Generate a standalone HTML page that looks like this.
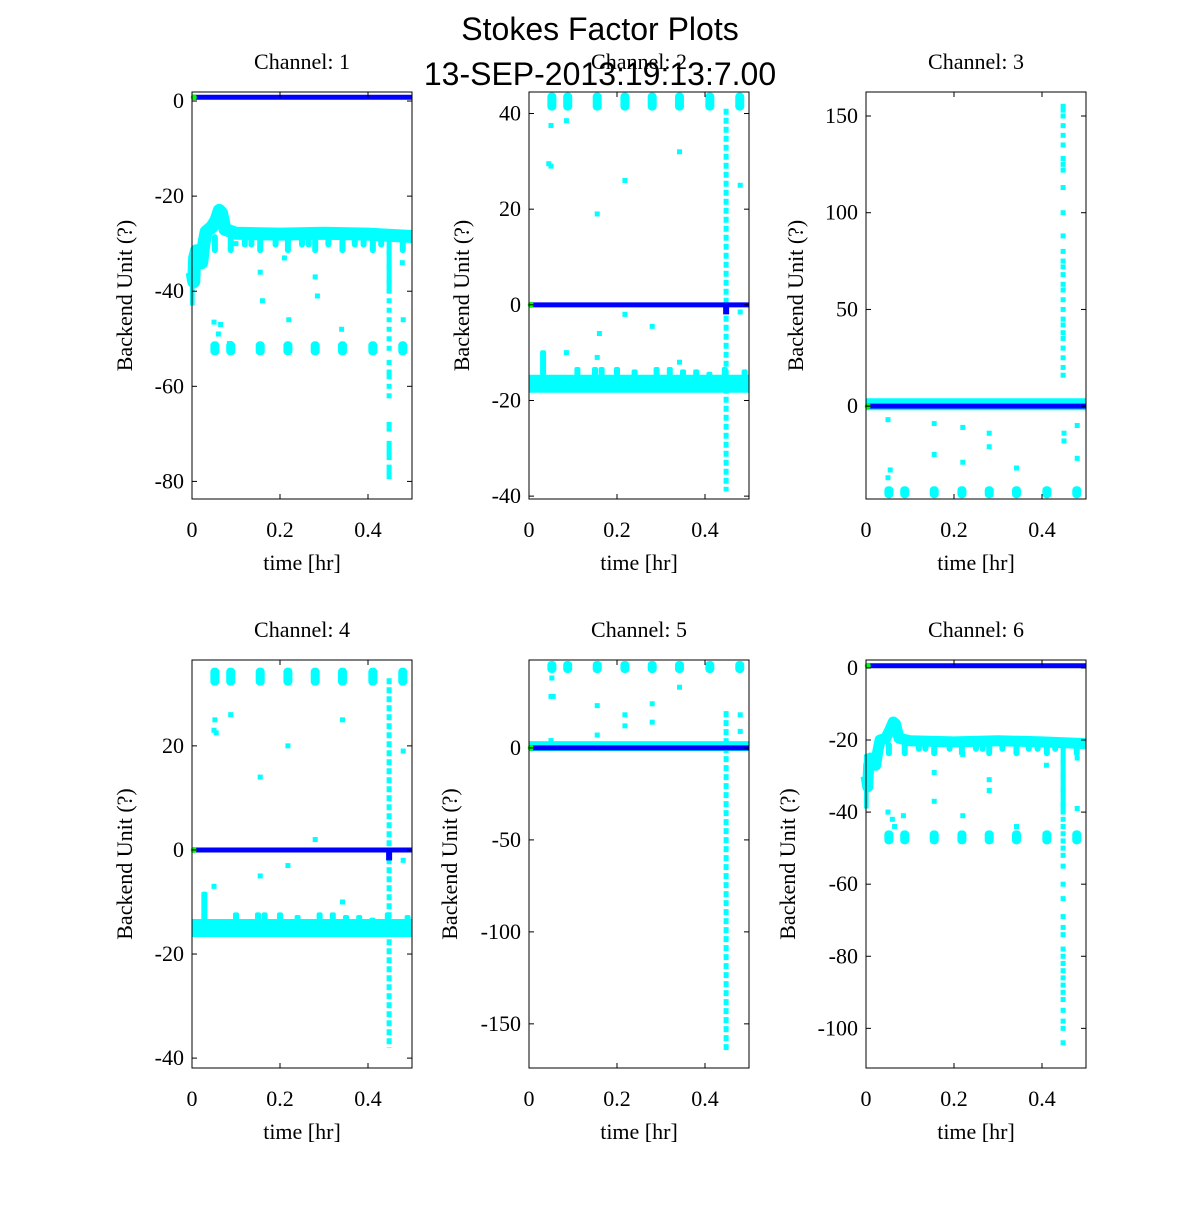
<!DOCTYPE html>
<html><head><meta charset="utf-8"><style>
body{margin:0;background:#fff}
svg text{font-family:"Liberation Serif",serif;fill:#000}
</style></head><body>
<svg id="fig" width="1200" height="1200" viewBox="0 0 1200 1200" xmlns="http://www.w3.org/2000/svg">
<rect width="1200" height="1200" fill="#fff"/>
<text x="600" y="40" text-anchor="middle" style="font-family:'Liberation Sans',sans-serif;font-size:32px">Stokes Factor Plots</text>
<text x="600" y="85" text-anchor="middle" style="font-family:'Liberation Sans',sans-serif;font-size:32px">13-SEP-2013:19:13:7.00</text>
</svg>
<script>
// shared data
const clusterTimes = [0.052,0.088,0.155,0.218,0.28,0.342,0.411,0.479];
const xTicks = [0,0.2,0.4];
const xTickLabels = ["0","0.2","0.4"];
const columnTime = 0.448;

// panel 1
const p1YTicks=[0,-20,-40,-60,-80];
const p1BandT=[0,0.004,0.006,0.01,0.018,0.022,0.027,0.032,0.045,0.055,0.062,0.067,0.075,0.1,0.2,0.3,0.4,0.5];
const p1BandV=[-36,-38,-33,-31.5,-32,-34,-30,-27.5,-26.5,-25,-23,-23.5,-27,-27.8,-28,-27.8,-28,-28.5];
const p1ClusterV=-52;
const p1ColumnV=[-29,-32,-35,-38,-40,-42,-44,-46,-48,-50,-52,-55,-57,-58,-60,-62,-68,-69,-72,-73,-74,-75,-77,-78,-79];
const p1ScatterT=[0.025,0.05,0.06,0.065,0.085,0.1,0.155,0.16,0.21,0.22,0.28,0.285,0.34,0.41,0.478,0.48];
const p1ScatterV=[-31,-46.5,-49,-47,-51,-30,-36,-42,-33,-46,-37,-41,-48,-31,-34,-46];

// panel 2
const p2YTicks=[40,20,0,-20,-40];
const p2BandT=[0,0.5];
const p2BandV=[-16.5,-16.5];
const p2SpikeT=[0.032,0.11,0.15,0.165,0.2,0.24,0.29,0.32,0.35,0.38,0.41,0.445,0.49];
const p2SpikeV=[-9.5,-13,-13,-13,-13,-13.5,-13,-13,-13.5,-13.5,-14,-13,-13.5];
const p2ClusterV=42.5;
const p2ColumnV=41,p2ColumnMin=-39;
const p2ScatterT=[0.05,0.045,0.05,0.085,0.155,0.218,0.28,0.342,0.218,0.16,0.085,0.342,0.48,0.48,0.155];
const p2ScatterV=[37.5,29.5,29,38.5,19,26,-4.5,32,-2,-6,-10,-12,-1.5,25,-11];

// panel 3
const p3YTicks=[150,100,50,0];
const p3BandT=[0,0.5];
const p3BandV=[1,1];
const p3ClusterV=-44.5;
const p3ColumnV=[16,20,25,30,35,38,42,45,50,55,60,63,68,72,75,80,88,100,113,122,125,128,135,140,145,150,153,155];
const p3ScatterT=[0.05,0.05,0.055,0.155,0.155,0.22,0.22,0.28,0.28,0.342,0.48,0.48,0.45,0.45];
const p3ScatterV=[-7,-37,-33,-9,-25,-11,-29,-14,-21,-32,-10,-27,-18,-14];

// panel 4
const p4YTicks=[20,0,-20,-40];
const p4BandT=[0,0.5];
const p4BandV=[-15,-15];
const p4SpikeT=[0.028,0.1,0.15,0.165,0.2,0.24,0.29,0.32,0.35,0.38,0.41,0.445,0.49];
const p4SpikeV=[-8,-12,-12,-12,-12,-12.5,-12,-12,-12.5,-12.5,-13,-12,-12.5];
const p4ClusterV=33.3;
const p4ColumnV=33,p4ColumnMin=-38;
const p4ScatterT=[0.052,0.055,0.05,0.088,0.155,0.218,0.28,0.342,0.218,0.155,0.05,0.342,0.48,0.48];
const p4ScatterV=[25,22.5,23,26,14,20,2,25,-3,-5,-7,-10,-2,19];

// panel 5
const p5YTicks=[0,-50,-100,-150];
const p5BandT=[0,0.5];
const p5BandV=[1,1];
const p5ClusterV=44;
const p5ColumnMin=-165,p5ColumnMax=20;
const p5ScatterT=[0.05,0.055,0.052,0.155,0.155,0.218,0.218,0.28,0.28,0.342,0.48,0.48,0.05];
const p5ScatterV=[28,28,38,23,7,18,12,24,14,33,18,9,4];

// panel 6
const p6YTicks=[0,-20,-40,-60,-80,-100];
const p6BandT=[0,0.004,0.006,0.01,0.018,0.022,0.027,0.032,0.045,0.055,0.062,0.067,0.075,0.1,0.2,0.3,0.4,0.5];
const p6BandV=[-30,-33,-27,-25,-25.5,-27,-23,-20,-19.5,-17,-15,-15.5,-19.5,-20.2,-20.5,-20.2,-20.5,-21];
const p6ClusterV=-47;
const p6ColumnV=[-22,-26,-30,-34,-38,-40,-42,-44,-46,-48,-50,-52,-55,-60,-64,-69,-72,-74,-78,-80,-82,-84,-86,-88,-90,-92,-95,-98,-100,-104];
const p6ScatterT=[0.025,0.05,0.06,0.065,0.085,0.155,0.155,0.22,0.22,0.28,0.28,0.342,0.41,0.48,0.48];
const p6ScatterV=[-24,-40,-42,-44,-41,-29,-37,-24,-41,-31,-34,-44,-27,-25,-39];

const NS='http://www.w3.org/2000/svg';
const svg=document.getElementById('fig');
function mk(tag,attrs,parent){const e=document.createElementNS(NS,tag);for(const k in attrs)e.setAttribute(k,attrs[k]);(parent||svg).appendChild(e);return e;}
const CY='#00ffff',BL='#0000ff';

function panel(cfg){
  const {x0,y0,w,h,ymin,ymax}=cfg;
  const g=mk('g',{});
  
  
  const X=t=>x0+t/0.5*w;
  const Y=v=>y0+(ymax-v)/(ymax-ymin)*h;
  const clip='clip'+cfg.name;
  const cp=mk('clipPath',{id:clip},g);mk('rect',{x:x0-6,y:y0-4,width:w+12,height:h+8},cp);
  const d=mk('g',{'clip-path':'url(#'+clip+')'},g);
  // band
  let pts=cfg.bandT.map((t,i)=>X(t)+','+Y(cfg.bandV[i])).join(' ');
  const band=mk('polyline',{points:pts,fill:'none',stroke:CY,'stroke-width':cfg.bandW,'stroke-linejoin':'round'},d);
  
  
  if(cfg.early){const r=mk('rect',{x:X(0)-2,y:Y(cfg.early[0]),width:X(0.006)-X(0)+2,height:Y(cfg.early[1])-Y(cfg.early[0]),fill:CY},d);
    
    }
  // dips from band at cluster times
  if(cfg.dip){clusterTimes.forEach(t=>{const bv=cfg.bandLevel;const r=mk('rect',{x:X(t)-3,y:Y(bv),width:6,height:Y(bv+cfg.dip)-Y(bv),rx:3,fill:CY},d);
    
    });
    [0.12,0.135,0.19,0.25,0.265,0.31,0.37,0.39,0.43].forEach(t=>{const bv=cfg.bandLevel;mk('rect',{x:X(t)-3,y:Y(bv),width:6,height:(Y(bv+cfg.dip)-Y(bv))*0.7,rx:3,fill:CY},d);});
  }
  if(cfg.spikeT){cfg.spikeT.forEach((t,i)=>{const r=mk('rect',{x:X(t)-3,y:Y(cfg.spikeV[i]),width:6,height:Y(cfg.bandLevel)-Y(cfg.spikeV[i]),rx:2,fill:CY},d);
    
    });}
  // clusters
  clusterTimes.forEach(t=>{const r=mk('rect',{x:X(t)-4.5,y:Y(cfg.clusterV)-cfg.clusterH,width:9,height:cfg.clusterH*2,rx:4,fill:CY},d);
    
    });
  // column
  if(cfg.columnV){cfg.columnV.forEach(v=>{const r=mk('rect',{x:X(columnTime)-2.5,y:Y(v)-2.5,width:5,height:5,fill:CY},d);
    
    });
    mk('rect',{x:X(columnTime)-2.5,y:Y(cfg.solidFrom),width:5,height:Y(cfg.solidTo)-Y(cfg.solidFrom),fill:CY},d);}
  if(cfg.colMin!==undefined){const r=mk('line',{x1:X(columnTime),x2:X(columnTime),y1:Y(cfg.colMax),y2:Y(cfg.colMin),stroke:CY,'stroke-width':5,'stroke-dasharray':'6 3'},d);
    
    }
  // scatter
  cfg.sT.forEach((t,i)=>{const r=mk('rect',{x:X(t)-2.5,y:Y(cfg.sV[i])-2.5,width:5,height:5,fill:CY},d);
    
    });
  // blue line
  const bl=mk('line',{x1:X(0),x2:X(0.5),y1:Y(cfg.blue),y2:Y(cfg.blue),stroke:BL,'stroke-width':5},d);
  
  
  if(cfg.blueDip) mk('rect',{x:X(columnTime)-3,y:Y(cfg.blue),width:6,height:Y(cfg.blue+cfg.blueDip)-Y(cfg.blue),fill:BL},d);
  mk('circle',{cx:X(0.004),cy:Y(cfg.blue),r:3,fill:'#00ff00'},d);
  // frame
  mk('rect',{x:x0,y:y0,width:w,height:h,fill:'none',stroke:'#000','stroke-width':1},g);
  // ticks
  xTicks.forEach((t,i)=>{mk('line',{x1:X(t),x2:X(t),y1:y0+h,y2:y0+h-5,stroke:'#000'},g);mk('line',{x1:X(t),x2:X(t),y1:y0,y2:y0+5,stroke:'#000'},g);
    const tx=mk('text',{x:X(t),y:y0+h+38,'text-anchor':'middle','font-size':'22'},g);tx.textContent=xTickLabels[i];
    
    });
  cfg.yTicks.forEach(v=>{mk('line',{x1:x0,x2:x0+5,y1:Y(v),y2:Y(v),stroke:'#000'},g);mk('line',{x1:x0+w,x2:x0+w-5,y1:Y(v),y2:Y(v),stroke:'#000'},g);
    const tx=mk('text',{x:x0-8,y:Y(v)+7,'text-anchor':'end','font-size':'22'},g);tx.textContent=String(v);
    
    });
  const t1=mk('text',{x:x0+w/2,y:y0-23,'text-anchor':'middle','font-size':'22'},g);t1.textContent=cfg.title;
  
  
  const t2=mk('text',{x:x0+w/2,y:y0+h+71,'text-anchor':'middle','font-size':'22'},g);t2.textContent='time [hr]';
  
  
  const t3=mk('text',{x:0,y:0,'text-anchor':'middle','font-size':'22',transform:'translate('+cfg.ylx+','+(y0+h/2)+') rotate(-90)'},g);t3.textContent='Backend Unit (?)';
  
  
}
panel({name:'panel-channel-1',title:'Channel: 1',x0:192,y0:92,w:220,h:407,ymin:-83.7,ymax:1.9,yTicks:p1YTicks,bandT:p1BandT,bandV:p1BandV,bandW:13,early:[-32,-43],dip:-4,bandLevel:-28,clusterV:p1ClusterV,clusterH:7,columnV:p1ColumnV,solidFrom:-27,solidTo:-40,sT:p1ScatterT,sV:p1ScatterV,blue:0.8,ylx:132});
panel({name:'panel-channel-2',title:'Channel: 2',x0:529,y0:92,w:220,h:407,ymin:-40.6,ymax:44.5,yTicks:p2YTicks,bandT:p2BandT,bandV:p2BandV,bandW:18,spikeT:p2SpikeT,spikeV:p2SpikeV,bandLevel:-16.5,clusterV:p2ClusterV,clusterH:9,colMin:p2ColumnMin,colMax:p2ColumnV,sT:p2ScatterT,sV:p2ScatterV,blue:0,blueDip:-2,ylx:469});
panel({name:'panel-channel-3',title:'Channel: 3',x0:866,y0:92,w:220,h:407,ymin:-48,ymax:162.4,yTicks:p3YTicks,bandT:p3BandT,bandV:p3BandV,bandW:12,bandLevel:1,clusterV:p3ClusterV,clusterH:6,columnV:p3ColumnV,solidFrom:0,solidTo:16,sT:p3ScatterT,sV:p3ScatterV,blue:0,ylx:803});
panel({name:'panel-channel-4',title:'Channel: 4',x0:192,y0:660,w:220,h:408,ymin:-41.9,ymax:36.5,yTicks:p4YTicks,bandT:p4BandT,bandV:p4BandV,bandW:18,spikeT:p4SpikeT,spikeV:p4SpikeV,bandLevel:-15,clusterV:p4ClusterV,clusterH:9,colMin:p4ColumnMin,colMax:p4ColumnV,sT:p4ScatterT,sV:p4ScatterV,blue:0,blueDip:-2,ylx:132});
panel({name:'panel-channel-5',title:'Channel: 5',x0:529,y0:660,w:220,h:408,ymin:-174,ymax:47.8,yTicks:p5YTicks,bandT:p5BandT,bandV:p5BandV,bandW:10,bandLevel:1,clusterV:p5ClusterV,clusterH:6,colMin:p5ColumnMin,colMax:p5ColumnMax,sT:p5ScatterT,sV:p5ScatterV,blue:0,ylx:457});
panel({name:'panel-channel-6',title:'Channel: 6',x0:866,y0:660,w:220,h:408,ymin:-111,ymax:2.2,yTicks:p6YTicks,bandT:p6BandT,bandV:p6BandV,bandW:11,early:[-24,-39],dip:-4,bandLevel:-20.5,clusterV:p6ClusterV,clusterH:7,columnV:p6ColumnV,solidFrom:-20,solidTo:-40,sT:p6ScatterT,sV:p6ScatterV,blue:0.6,ylx:795});
</script>
</body></html>
